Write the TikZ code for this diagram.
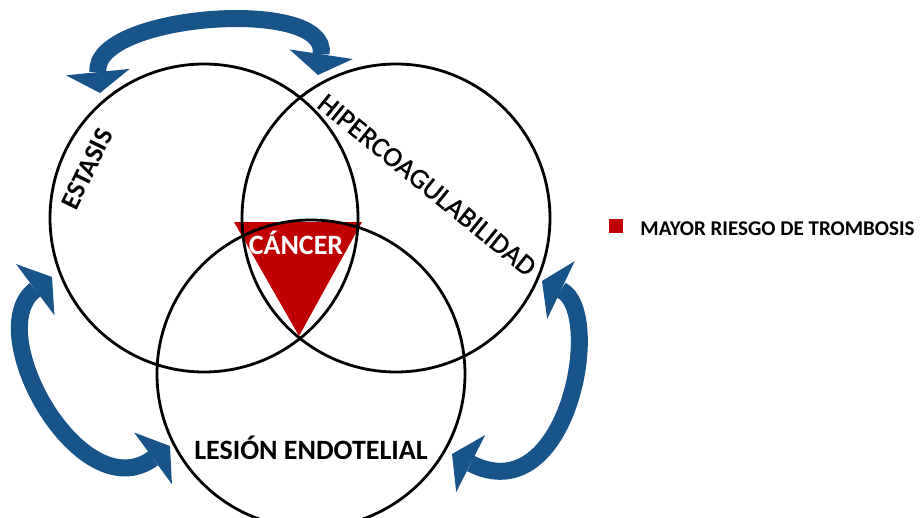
\documentclass[tikz,border=0pt]{standalone}
\usepackage{fontspec}
\setmainfont{Carlito}
\newfontfamily\medio[FakeBold=1]{Carlito}
\usetikzlibrary{arrows.meta, positioning}
\definecolor{azul}{RGB}{24,84,138}
\definecolor{rojo}{RGB}{192,0,0}

\begin{document}
\begin{tikzpicture}[x=1pt, y=-1pt,
    circulo/.style={circle, draw, line width=2.8pt, minimum size=308pt, inner sep=0pt},
    flecha/.style={line width=17pt, color=azul,
        {Triangle[length=21pt, width=64pt, line width=0pt]}-{Triangle[length=21pt, width=64pt, line width=0pt]}},
    rotulo/.style={inner sep=0pt, font=\fontsize{28}{34}\selectfont}]
    \useasboundingbox (0,0) rectangle (923,517);
    \fill[rojo] (234,222) -- (362,222) -- (299,336) -- cycle;
    \node[circulo] (E) at (204,218) {};
    \node[circulo] (H) at (396,218) {};
    \node[circulo] (L) at (311,374) {};
    \node[rotulo, font=\bfseries\fontsize{27}{32}\selectfont, rotate=64] (e) at (87,169) {ESTASIS};
    \node[rotulo, font=\medio\fontsize{28}{34}\selectfont, rotate=-39] (h) at (427,185) {HIPERCOAGULABILIDAD};
    \node[rotulo, font=\bfseries\fontsize{28}{34}\selectfont] (l) at (311,448) {LESIÓN ENDOTELIAL};
    \node[rotulo, font=\bfseries\fontsize{28}{34}\selectfont, text=white] (c) at (296,243) {CÁNCER};
    \coordinate (a1) at (100,93);
    \coordinate (a2) at (318,75);
    \coordinate (b1) at (52,277);
    \coordinate (b2) at (170,446);
    \coordinate (c1) at (542,281);
    \coordinate (c2) at (452,454);
    \draw[flecha] (a1) .. controls +(-8,-79) and +(12,-79) .. (a2);
    \draw[flecha] (b1) .. controls +(-72,54) and +(-89,65) .. (b2);
    \draw[flecha] (c1) .. controls +(63,30) and +(116,59) .. (c2);
    \node[fill=rojo, minimum size=14pt, inner sep=0pt] (R) at (616,226) {};
    \node[right=17pt of R, yshift=-3pt, inner sep=0pt, font=\bfseries\fontsize{21}{25}\selectfont] (T) {MAYOR RIESGO DE TROMBOSIS};
\end{tikzpicture}
\end{document}
